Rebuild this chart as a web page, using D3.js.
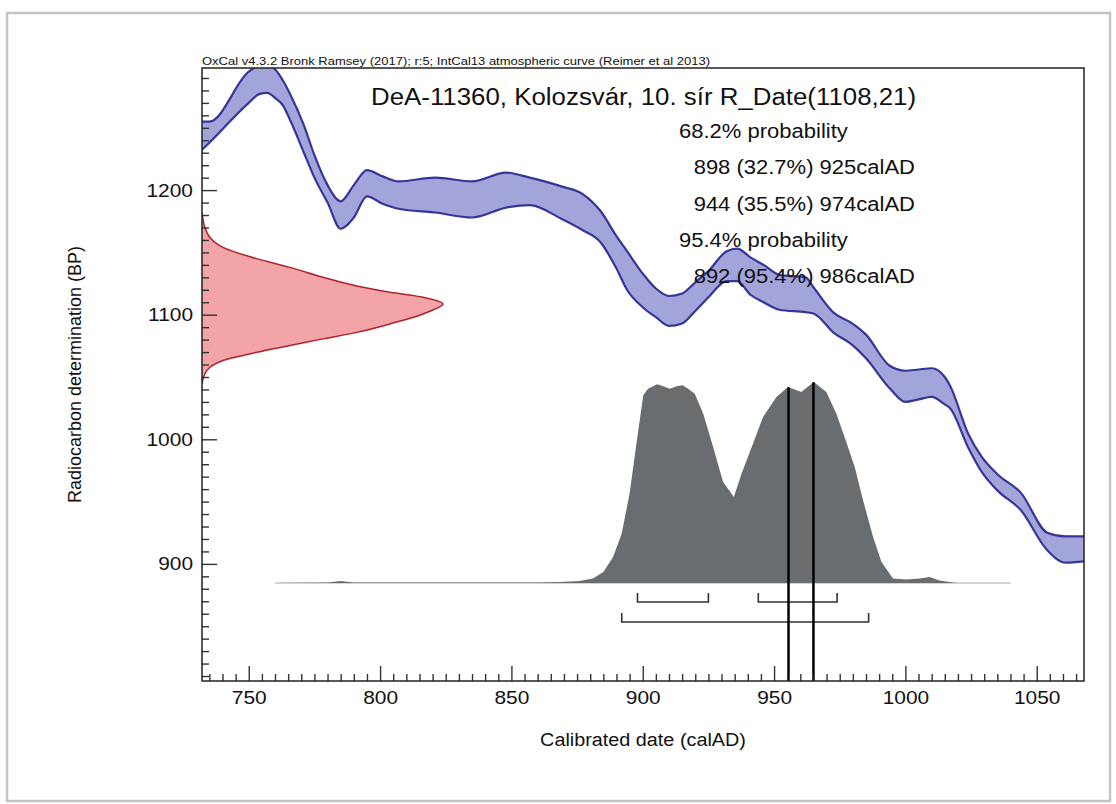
<!DOCTYPE html>
<html>
<head>
<meta charset="utf-8">
<script src="https://cdn.jsdelivr.net/npm/d3@7"></script>
<style>
  body { margin: 0; background: #fff; }
  text { font-family: "Liberation Sans", Arial, sans-serif; fill: #111; }
</style>
</head>
<body>
<div id="canvas"></div>
<script>
"use strict"

/* ---------- data ---------- */
// IntCal13 band: calendar year, upper and lower edge in BP
let curveYears = [732, 735, 750, 754, 757, 760, 763, 766, 771, 775, 780, 785, 790, 795, 801, 807, 821, 835, 848, 857,
  869, 877, 884, 890, 894, 900, 905, 910, 915, 920, 925, 932, 936, 941, 946, 952, 962, 965, 973, 979,
  985, 994, 1000, 1005, 1010, 1015, 1017, 1024, 1029, 1035, 1044, 1054, 1061, 1068];
let curveUpper = [1255, 1255, 1295, 1300, 1300, 1297, 1288, 1276, 1252, 1228, 1204, 1191, 1204, 1216, 1211, 1207, 1210, 1207, 1214, 1210,
  1203, 1197, 1183, 1163, 1151, 1133, 1121, 1115, 1117, 1126, 1135, 1151, 1153, 1146, 1140, 1132, 1130, 1122, 1101, 1094,
  1084, 1059, 1055, 1056, 1057, 1050, 1043, 1004, 986, 972, 957, 925, 922, 922];
let curveLower = [1232, 1238, 1270, 1277, 1278, 1274, 1268, 1255, 1230, 1210, 1190, 1169, 1178, 1195, 1189, 1185, 1182, 1178, 1186, 1188,
  1177, 1168, 1158, 1137, 1120, 1106, 1098, 1091, 1093, 1103, 1114, 1127, 1127, 1116, 1110, 1104, 1102, 1101, 1085, 1077,
  1065, 1041, 1030, 1032, 1034, 1028, 1025, 993, 974, 959, 943, 911, 901, 902];

// radiocarbon date R_Date(1108,21): BP and relative probability
let dateBP = [1182, 1170, 1162, 1154, 1145, 1138, 1130, 1123, 1118, 1114, 1108.6, 1100.6, 1092.6, 1085.8, 1080.6, 1075.2, 1069.8, 1063.2, 1057.8, 1052.6, 1044.6];
let dateProb = [0, 0.012, 0.033, 0.087, 0.227, 0.365, 0.502, 0.642, 0.78, 0.917, 1, 0.917, 0.78, 0.643, 0.502, 0.365, 0.228, 0.087, 0.033, 0.012, 0];

// calibrated distribution: calAD and relative probability
let calYears = [760, 780, 785, 790, 800, 850, 860, 868.5, 876, 881, 885, 888.7, 892, 895, 897.6, 900.2, 902, 905.5, 907.8, 910.3,
  912.9, 915.1, 917.3, 919.8, 923, 926.8, 930.6, 934.7, 937.6, 942, 945.8, 950.9, 955.3, 960.4, 965.1, 969.9, 973.7, 977.5, 980.7, 983.9,
  987.7, 990.9, 995.3, 1000.4, 1005.4, 1009.2, 1013, 1018, 1020, 1040];
let calProb = [0, 0.003, 0.01, 0.003, 0.002, 0.002, 0.003, 0.005, 0.01, 0.022, 0.055, 0.129, 0.246, 0.445, 0.694, 0.934, 0.967, 0.989, 0.979, 0.967,
  0.979, 0.984, 0.967, 0.942, 0.843, 0.677, 0.502, 0.428, 0.544, 0.694, 0.826, 0.925, 0.975, 0.95, 1, 0.95, 0.843, 0.701, 0.577, 0.411,
  0.229, 0.104, 0.022, 0.017, 0.022, 0.03, 0.013, 0.002, 0, 0];

// ranges and the two marker lines
let ranges68 = [[898, 925], [944, 974]];
let ranges95 = [[892, 986]];
let markerYears = [955.5, 965];

// texts
let headerText = "OxCal v4.3.2 Bronk Ramsey (2017); r:5; IntCal13 atmospheric curve (Reimer et al 2013)";
let titleText = "DeA-11360, Kolozsvár, 10. sír R_Date(1108,21)";
let probHeads = ["68.2% probability", "95.4% probability"];
let probLines = [["898 (32.7%) 925calAD", "944 (35.5%) 974calAD"], ["892 (95.4%) 986calAD"]];
let xMajor = [750, 800, 850, 900, 950, 1000, 1050];
let yMajor = [900, 1000, 1100, 1200];

/* ---------- canvas ---------- */
let drawing = d3.select("#canvas")
  .append("svg")
  .attr("width", 1116)
  .attr("height", 804);

let outerFrame = drawing.append("rect")
  .attr("x", 7).attr("y", 13).attr("width", 1103).attr("height", 788)
  .attr("fill", "none").attr("stroke", "#c4c4c4").attr("stroke-width", 2.5);

let plotLeft = 202, plotRight = 1084, plotTop = 68, plotBottom = 681;

let x = d3.scaleLinear().domain([732.2, 1068]).range([plotLeft, plotRight]);
let y = d3.scaleLinear().domain([806, 1298]).range([plotBottom, plotTop]);
let dateWidth = d3.scaleLinear().domain([0, 1]).range([plotLeft, plotLeft + 241]);
let calHeight = d3.scaleLinear().domain([0, 1]).range([583, 382]);

drawing.append("clipPath").attr("id", "plotClip")
  .append("rect").attr("x", plotLeft).attr("y", plotTop)
  .attr("width", plotRight - plotLeft).attr("height", plotBottom - plotTop);

let plot = drawing.append("g").attr("clip-path", "url(#plotClip)");

/* ---------- calibration curve band ---------- */
let band = d3.area()
  .x((d, i) => x(curveYears[i]))
  .y0((d, i) => y(curveLower[i]))
  .y1((d, i) => y(curveUpper[i]))
  .curve(d3.curveMonotoneX);

plot.append("path")
  .attr("d", band(curveYears))
  .attr("fill", "#a3a5da")
  .attr("stroke", "none");

let edge = vals => d3.line()
  .x((d, i) => x(curveYears[i]))
  .y((d, i) => y(vals[i]))
  .curve(d3.curveMonotoneX)(curveYears);

[curveUpper, curveLower].forEach(vals => {
  plot.append("path")
    .attr("d", edge(vals))
    .attr("fill", "none")
    .attr("stroke", "#35359a")
    .attr("stroke-width", 2.2);
});

/* ---------- radiocarbon date (red) ---------- */
let dateArea = d3.area()
  .y((d, i) => y(dateBP[i]))
  .x0(dateWidth(0))
  .x1((d, i) => dateWidth(dateProb[i]))
  .curve(d3.curveCatmullRom);

plot.append("path")
  .attr("d", dateArea(dateBP))
  .attr("fill", "#f3a4a7")
  .attr("stroke", "none");

plot.append("path")
  .attr("d", d3.line()
    .y((d, i) => y(dateBP[i]))
    .x((d, i) => dateWidth(dateProb[i]))
    .curve(d3.curveCatmullRom)(dateBP))
  .attr("fill", "none")
  .attr("stroke", "#b0202e")
  .attr("stroke-width", 1.5);

/* ---------- calibrated distribution (grey) ---------- */
plot.append("line")
  .attr("x1", x(calYears[0])).attr("x2", x(calYears[calYears.length - 1]))
  .attr("y1", calHeight(0)).attr("y2", calHeight(0))
  .attr("stroke", "#a8a8a8").attr("stroke-width", 1.2);

plot.append("path")
  .attr("d", d3.area()
    .x((d, i) => x(calYears[i]))
    .y0(calHeight(0))
    .y1((d, i) => calHeight(calProb[i]))(calYears))
  .attr("fill", "#6a6d70");

// brackets under the distribution
let bracket = (r, yy) => `M${x(r[0])},${yy - 9}V${yy}H${x(r[1])}V${yy - 9}`;
ranges68.forEach(r => {
  plot.append("path").attr("d", bracket(r, 602))
    .attr("fill", "none").attr("stroke", "#333").attr("stroke-width", 1.6);
});
ranges95.forEach(r => {
  plot.append("path").attr("d", bracket(r, 622))
    .attr("fill", "none").attr("stroke", "#333").attr("stroke-width", 1.6);
});

// marker lines from the distribution down to the axis
let bis = d3.bisector(d => d).left;
markerYears.forEach(m => {
  let i = bis(calYears, m);
  let t = (m - calYears[i - 1]) / (calYears[i] - calYears[i - 1]);
  let p = calProb[i - 1] + t * (calProb[i] - calProb[i - 1]);
  plot.append("line")
    .attr("x1", x(m)).attr("x2", x(m))
    .attr("y1", calHeight(p)).attr("y2", plotBottom)
    .attr("stroke", "#000").attr("stroke-width", 2.5);
});

/* ---------- axes (ticks point inward) ---------- */
let xMinor = d3.range(735, 1068, 5).filter(v => v % 50 !== 0);
let yMinor = d3.range(810, 1298, 10).filter(v => v % 100 !== 0);

let xAxis = drawing.append("g").attr("transform", `translate(0,${plotBottom})`)
  .call(d3.axisBottom(x).tickValues(xMajor).tickFormat(d3.format("d")).tickSizeInner(-15).tickSizeOuter(0).tickPadding(10));
drawing.append("g").attr("transform", `translate(0,${plotBottom})`)
  .call(d3.axisBottom(x).tickValues(xMinor).tickFormat("").tickSizeInner(-7).tickSizeOuter(0));

let yAxis = drawing.append("g").attr("transform", `translate(${plotLeft},0)`)
  .call(d3.axisLeft(y).tickValues(yMajor).tickFormat(d3.format("d")).tickSizeInner(-15).tickSizeOuter(0).tickPadding(9));
drawing.append("g").attr("transform", `translate(${plotLeft},0)`)
  .call(d3.axisLeft(y).tickValues(yMinor).tickFormat("").tickSizeInner(-7).tickSizeOuter(0));

drawing.selectAll(".domain").remove();
drawing.selectAll(".tick line").attr("stroke", "#333").attr("stroke-width", 1.4);
drawing.selectAll(".tick text")
  .attr("font-size", 19)
  .attr("font-family", "'Liberation Sans', Arial, sans-serif")
  .attr("fill", "#111")
  .classed("stretch", true);

let frame = drawing.append("rect")
  .attr("x", plotLeft).attr("y", plotTop)
  .attr("width", plotRight - plotLeft).attr("height", plotBottom - plotTop)
  .attr("fill", "none").attr("stroke", "#222").attr("stroke-width", 1.5);

/* ---------- texts ---------- */
// header line is drawn a bit wider than the rest (≈ 508 px in the source)
let header = drawing.append("text")
  .attr("x", plotLeft).attr("y", 65).attr("font-size", 11)
  .text(headerText);
header.attr("textLength", 508).attr("lengthAdjust", "spacingAndGlyphs");

drawing.append("text").attr("class", "stretch")
  .attr("x", 371).attr("y", 105).attr("font-size", 23.5)
  .text(titleText);

let lineY = 138;
probHeads.forEach((h, k) => {
  drawing.append("text").attr("class", "stretch")
    .attr("x", 679).attr("y", lineY).attr("font-size", 20)
    .text(h);
  lineY += 36.3;
  probLines[k].forEach(s => {
    drawing.append("text").attr("class", "stretch")
      .attr("x", 915).attr("y", lineY).attr("font-size", 20)
      .attr("text-anchor", "end")
      .text(s);
    lineY += 36.3;
  });
});

drawing.append("text").attr("class", "stretch")
  .attr("x", (plotLeft + plotRight) / 2).attr("y", 746).attr("font-size", 18)
  .attr("text-anchor", "middle")
  .text("Calibrated date (calAD)");

drawing.append("text")
  .attr("transform", `translate(81,${(plotTop + plotBottom) / 2}) rotate(-90)`)
  .attr("font-size", 18)
  .attr("text-anchor", "middle")
  .text("Radiocarbon determination (BP)");

// the source picture is stretched sideways by about 10 %
drawing.selectAll("text.stretch").each(function () {
  let w = this.getComputedTextLength();
  d3.select(this).attr("textLength", w * 1.1).attr("lengthAdjust", "spacingAndGlyphs");
});
</script>
</body>
</html>
